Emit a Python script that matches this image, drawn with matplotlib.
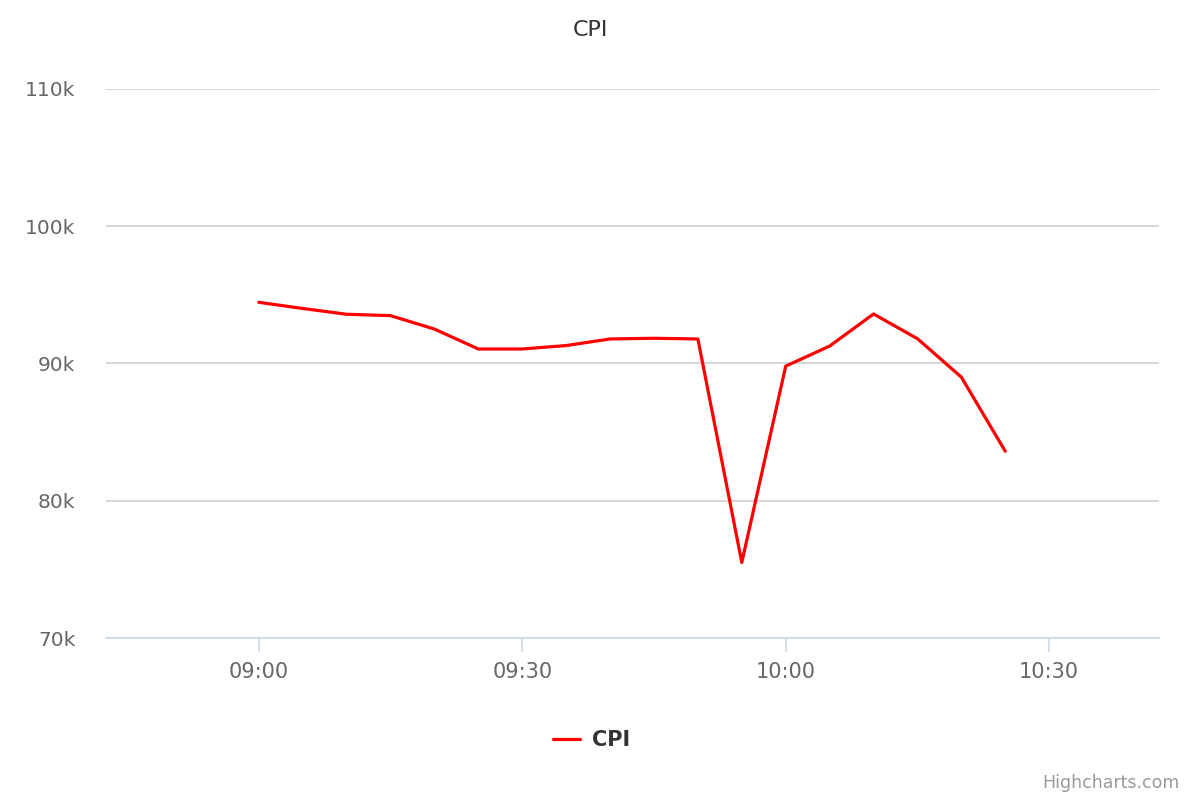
import matplotlib.pyplot as plt

# minutes after 09:00
minutes = [0, 5, 10, 15, 20, 25, 30, 35, 40, 45, 50, 55, 60, 65, 70, 75, 80, 85]
cpi = [94450, 94000, 93580, 93480, 92500, 91050, 91050, 91300, 91780, 91830, 91780,
       75500, 89800, 91260, 93600, 91800, 89000, 83600]

tick_pos = [0, 30, 60, 90]
tick_labels = ["09:00", "09:30", "10:00", "10:30"]
y_ticks = [70000, 80000, 90000, 100000, 110000]
y_labels = ["70k", "80k", "90k", "100k", "110k"]

fig = plt.figure(figsize=(12, 8), dpi=100)
ax = fig.add_axes([0.0883, 0.2025, 0.8775, 0.6865])

ax.plot(minutes, cpi, color="#ff0000", linewidth=2.3, label="CPI",
        solid_joinstyle="round", solid_capstyle="round")

ax.set_xlim(-17.4, 102.5)
ax.set_ylim(70000, 110000)
ax.set_yticks(y_ticks)
ax.set_yticklabels(y_labels)
ax.set_xticks(tick_pos)
ax.set_xticklabels(tick_labels)

ax.grid(axis="y", color="#d0d0d0", linewidth=1.2)
ax.set_axisbelow(True)
for side in ["top", "right", "left"]:
    ax.spines[side].set_visible(False)
ax.spines["bottom"].set_color("#ccd6eb")
ax.spines["bottom"].set_linewidth(1.2)

ax.tick_params(axis="y", length=0, pad=22, labelsize=14.5, labelcolor="#666666")
ax.tick_params(axis="x", length=10, width=1.2, color="#ccd6eb", pad=7,
               labelsize=15, labelcolor="#666666")

fig.text(0.4917, 0.9625, "CPI", ha="center", va="center", fontsize=16, color="#333333")

leg = fig.legend(loc="center", bbox_to_anchor=(0.493, 0.075), frameon=False,
                 prop={"weight": "bold", "size": 15}, handlelength=1.3, handletextpad=0.6)
for t in leg.get_texts():
    t.set_color("#333333")

fig.text(0.983, 0.021, "Highcharts.com", ha="right", va="center", fontsize=12.5, color="#999999")

fig.savefig("out.png", dpi=100)
